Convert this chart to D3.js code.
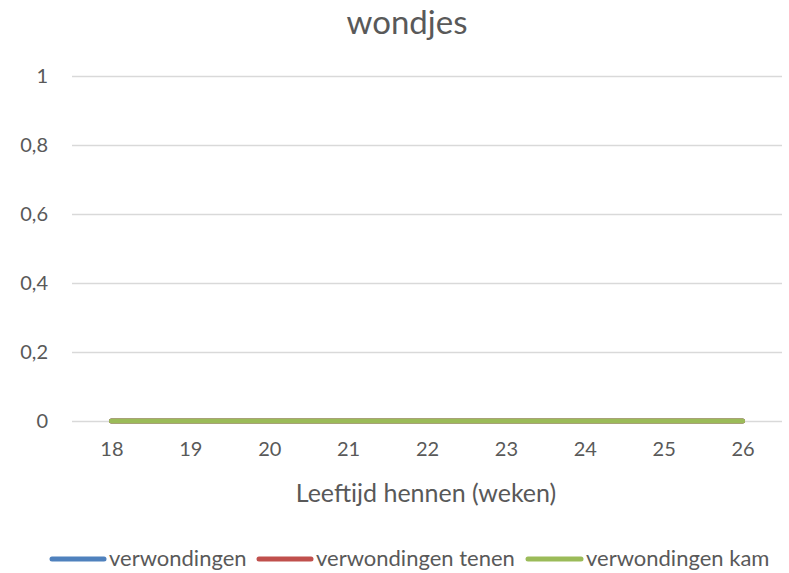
<!DOCTYPE html>
<html>
<head>
<meta charset="utf-8">
<script src="https://cdn.jsdelivr.net/npm/d3@7"></script>
<style>
  html, body { margin: 0; padding: 0; background: #fff; }
  svg { display: block; font-family: "Lato", "Open Sans", sans-serif; }
</style>
</head>
<body>
<svg id="chart" width="789" height="573"></svg>
<script>
const categories = ["18", "19", "20", "21", "22", "23", "24", "25", "26"];
const seriesNames = ["verwondingen", "verwondingen tenen", "verwondingen kam"];
const verwondingen = [0, 0, 0, 0, 0, 0, 0, 0, 0];
const verwondingenTenen = [0, 0, 0, 0, 0, 0, 0, 0, 0];
const verwondingenKam = [0, 0, 0, 0, 0, 0, 0, 0, 0];
const yTicks = [0, 0.2, 0.4, 0.6, 0.8, 1];
const colors = ["#4f81bd", "#c0504d", "#9bbb59"];

const series = [verwondingen, verwondingenTenen, verwondingenKam].map((vals, i) => ({
  name: seriesNames[i], color: colors[i], values: vals
}));

const svg = d3.select("#chart");
const textColor = "#595959";
const plotLeft = 72, plotRight = 782, plotTop = 76, plotBottom = 421;

const x = d3.scalePoint().domain(categories).range([plotLeft, plotRight]).padding(0.5);
const y = d3.scaleLinear().domain([0, 1]).range([plotBottom, plotTop]);

// title
svg.append("text").attr("x", 407).attr("y", 34).attr("text-anchor", "middle")
  .attr("font-size", 33).attr("fill", textColor).text("wondjes");

// gridlines
svg.append("g").selectAll("line").data(yTicks).join("line")
  .attr("x1", plotLeft).attr("x2", plotRight)
  .attr("y1", d => Math.round(y(d)) + 0.5).attr("y2", d => Math.round(y(d)) + 0.5)
  .attr("stroke", "#d9d9d9").attr("stroke-width", 1.3);

// y axis labels
const fmt = d => String(d).replace(".", ",");
const yAxis = d3.axisLeft(y).tickValues(yTicks).tickFormat(fmt).tickSize(0).tickPadding(0);
const gy = svg.append("g").attr("transform", `translate(48,0)`).call(yAxis);
gy.select(".domain").remove();
gy.selectAll("text").attr("font-size", 20).attr("fill", textColor).attr("font-family", "Lato, sans-serif");

// x axis labels
const xAxis = d3.axisBottom(x).tickSize(0).tickPadding(0);
const gx = svg.append("g").attr("transform", `translate(0,${plotBottom + 21})`).call(xAxis);
gx.select(".domain").remove();
gx.selectAll("text").attr("font-size", 20).attr("fill", textColor).attr("font-family", "Lato, sans-serif");

// x axis title
svg.append("text").attr("x", 426).attr("y", 502).attr("text-anchor", "middle")
  .attr("font-size", 25).attr("fill", textColor).text("Leeftijd hennen (weken)");

// lines
const line = d3.line().x((d, i) => x(categories[i])).y(d => y(d));
svg.append("g").selectAll("path").data(series).join("path")
  .attr("d", d => line(d.values))
  .attr("fill", "none").attr("stroke", d => d.color)
  .attr("stroke-width", 5).attr("stroke-linecap", "round").attr("stroke-linejoin", "round");

// legend
const legendItems = [
  { x: 52, tx: 109 },
  { x: 259, tx: 316 },
  { x: 528, tx: 586 }
];
const lg = svg.append("g");
series.forEach((s, i) => {
  const it = legendItems[i];
  lg.append("line").attr("x1", it.x).attr("x2", it.tx - 5).attr("y1", 559).attr("y2", 559)
    .attr("stroke", s.color).attr("stroke-width", 5).attr("stroke-linecap", "round");
  lg.append("text").attr("x", it.tx).attr("y", 566).attr("font-size", 22)
    .attr("fill", textColor).text(s.name);
});
</script>
</body>
</html>
